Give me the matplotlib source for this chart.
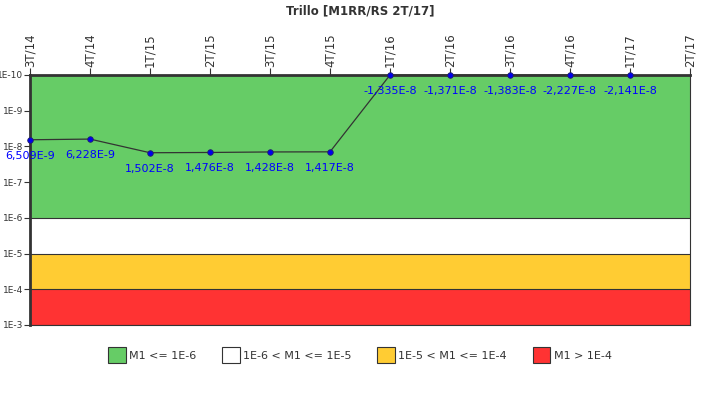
import matplotlib
matplotlib.use("Agg")
import matplotlib.pyplot as plt
from matplotlib.patches import Patch

# datos
trimestres = ["3T/14", "4T/14", "1T/15", "2T/15", "3T/15", "4T/15",
              "1T/16", "2T/16", "3T/16", "4T/16", "1T/17", "2T/17"]
valores = [6.509e-9, 6.228e-9, 1.502e-8, 1.476e-8, 1.428e-8, 1.417e-8,
           -1.335e-8, -1.371e-8, -1.383e-8, -2.227e-8, -2.141e-8]
limites = [1e-10, 1e-6, 1e-5, 1e-4, 1e-3]
colores = ["#66cc66", "#ffffff", "#ffcc33", "#ff3333"]
leyenda = ["M1 <= 1E-6", "1E-6 < M1 <= 1E-5", "1E-5 < M1 <= 1E-4", "M1 > 1E-4"]
yticks = [1e-10, 1e-9, 1e-8, 1e-7, 1e-6, 1e-5, 1e-4, 1e-3]
ytick_labels = ["1E-10", "1E-9", "1E-8", "1E-7", "1E-6", "1E-5", "1E-4", "1E-3"]

fig = plt.figure(figsize=(7.2, 4.0), dpi=100)
ax = fig.add_axes([30 / 720, 1 - 325 / 400, 660 / 720, 250 / 400])

ax.set_yscale("log")
ax.set_ylim(limites[-1], limites[0])
ax.set_xlim(0, len(trimestres) - 1)

# bandas
for i in range(len(colores)):
    ax.axhspan(limites[i], limites[i + 1], facecolor=colores[i], edgecolor="none", zorder=0)
    ax.axhline(limites[i + 1], color="#333333", lw=0.8, zorder=1)

# serie (valores negativos se pintan arriba del todo)
x = list(range(len(valores)))
y = [max(v, limites[0]) for v in valores]
ax.plot(x, y, color="#333333", lw=0.9, zorder=3, clip_on=False)
ax.plot(x, y, "o", ms=4, mfc="#0000ee", mec="#222266", mew=0.6, zorder=4, clip_on=False)

for xi, yi, v in zip(x, y, valores):
    txt = ("%.3E" % v).replace(".", ",").replace("E-0", "E-")
    ax.annotate(txt, (xi, yi), xytext=(0, -16), textcoords="offset pixels",
                ha="center", va="center", color="#0000ff", fontsize=8, zorder=5)

# ejes
ax.set_xticks(range(len(trimestres)))
ax.set_xticklabels(trimestres, rotation=90, fontsize=8.5, color="#333333")
ax.xaxis.tick_top()
ax.tick_params(axis="x", length=5, width=0.8, color="#333333", pad=1)
ax.set_yticks(yticks)
ax.set_yticklabels(ytick_labels, fontsize=6.5, color="#333333")
ax.yaxis.set_minor_locator(matplotlib.ticker.NullLocator())
ax.tick_params(axis="y", length=4, width=0.8, color="#333333", pad=1)

for lado in ["left", "top"]:
    ax.spines[lado].set_linewidth(2)
    ax.spines[lado].set_color("#333333")
for lado in ["right", "bottom"]:
    ax.spines[lado].set_linewidth(0.8)
    ax.spines[lado].set_color("#333333")

fig.text(0.5, 1 - 11 / 400, "Trillo [M1RR/RS 2T/17]", ha="center", va="center",
         fontsize=8.5, fontweight="bold", color="#333333")

handles = [Patch(facecolor=c, edgecolor="#333333", lw=0.8) for c in colores]
fig.legend(handles, leyenda, loc="center", bbox_to_anchor=(0.5, 1 - 355 / 400), ncol=4,
           frameon=False, fontsize=8, handlelength=1.6, handleheight=1.8,
           handletextpad=0.3, columnspacing=2.3, labelcolor="#333333")

fig.savefig("out.png", dpi=100)
